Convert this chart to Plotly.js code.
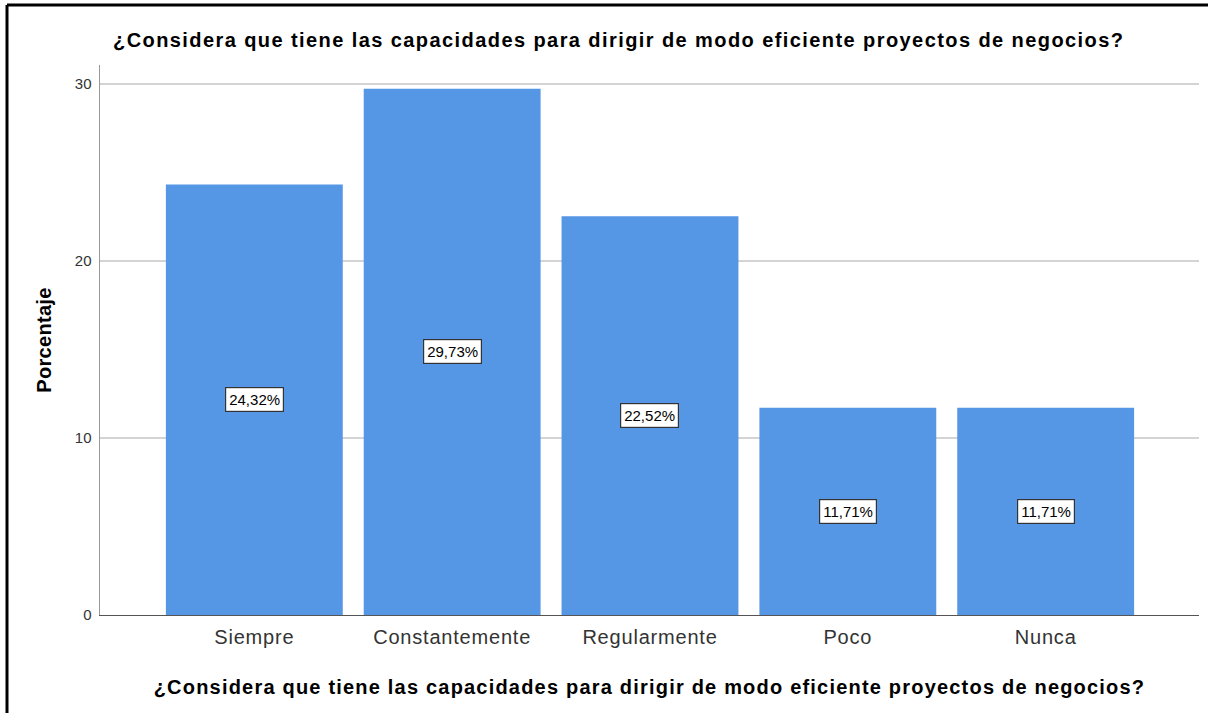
<!DOCTYPE html>
<html>
<head>
<meta charset="utf-8">
<script src="https://cdn.plot.ly/plotly-3.0.1.min.js"></script>
<style>
html,body{margin:0;padding:0;background:#fff;}
#chart{width:1208px;height:713px;}
#chart .gtitle{letter-spacing:1.42px;}
#chart .xtitle{letter-spacing:1.2px;}
#chart .ytitle{letter-spacing:0.3px;}
#chart .xtick text{letter-spacing:0.8px;}
</style>
</head>
<body>
<div id="chart"></div>
<script>
const categories = ["Siempre", "Constantemente", "Regularmente", "Poco", "Nunca"];
const percentages = [24.32, 29.73, 22.52, 11.71, 11.71];
const labels = ["24,32%", "29,73%", "22,52%", "11,71%", "11,71%"];
const chartTitle = "¿Considera que tiene las capacidades para dirigir de modo eficiente proyectos de negocios?";
const yTitle = "Porcentaje";
const yTicks = [0, 10, 20, 30];

const FONT = "Liberation Sans, Arial, sans-serif";

const trace = {
  type: "bar",
  x: categories,
  y: percentages,
  width: 0.894,
  marker: {color: "#5596E5", line: {width: 0}},
  hoverinfo: "skip"
};

const annotations = categories.map((c, i) => ({
  x: c, y: percentages[i] / 2, xref: "x", yref: "y",
  text: labels[i], showarrow: false,
  font: {family: FONT, size: 15, color: "#000"},
  bgcolor: "#fff", bordercolor: "#333", borderwidth: 1.2, borderpad: 3
}));

const layout = {
  width: 1208, height: 713,
  paper_bgcolor: "#fff", plot_bgcolor: "#fff",
  margin: {l: 100, r: 9, t: 65, b: 98},
  showlegend: false,
  title: {
    text: "<b>" + chartTitle + "</b>",
    xref: "container", yref: "container",
    x: 113 / 1208, xanchor: "left",
    y: 1 - 40 / 713, yanchor: "middle",
    font: {family: FONT, size: 20, color: "#000"}
  },
  xaxis: {
    type: "category",
    range: [-0.78, 4.775],
    showgrid: false, zeroline: false,
    showline: true, linecolor: "#555", linewidth: 1,
    ticks: "",
    ticklabelstandoff: 4,
    tickfont: {family: FONT, size: 20, color: "#333"},
    title: {text: "<b>" + chartTitle + "</b>", font: {family: FONT, size: 20, color: "#000"}, standoff: 32}
  },
  yaxis: {
    range: [0, 31.07],
    tickvals: yTicks,
    showgrid: true, gridcolor: "#d4d4d4", gridwidth: 1.5,
    zeroline: false,
    showline: true, linecolor: "#999", linewidth: 1.5,
    ticks: "",
    ticklabelstandoff: 4,
    tickfont: {family: FONT, size: 15, color: "#333"},
    title: {text: "<b>" + yTitle + "</b>", font: {family: FONT, size: 20, color: "#000"}, standoff: 18}
  },
  bargap: 0.1,
  annotations: annotations,
  shapes: [
    {type: "line", xref: "paper", yref: "paper", x0: (7 - 100) / 1099, x1: (1210 - 100) / 1099, y0: (615 - 5) / 550, y1: (615 - 5) / 550, line: {color: "#000", width: 3}},
    {type: "line", xref: "paper", yref: "paper", x0: (7 - 100) / 1099, x1: (7 - 100) / 1099, y0: (615 - 5) / 550, y1: (615 - 720) / 550, line: {color: "#000", width: 3}}
  ]
};

Plotly.newPlot("chart", [trace], layout, {staticPlot: true, displayModeBar: false});
</script>
</body>
</html>
